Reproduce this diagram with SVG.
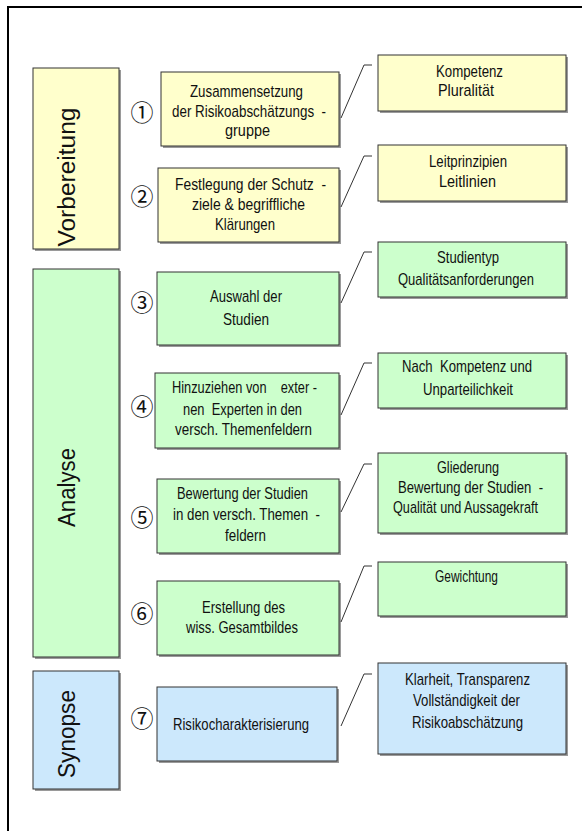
<svg xmlns="http://www.w3.org/2000/svg" width="582" height="831" viewBox="0 0 582 831">
<style>
.frame{fill:none;stroke:#000;stroke-width:2}
.sh{fill:#9a9a9a}
.y{fill:#ffffcc;stroke:#333;stroke-width:1}
.g{fill:#ccffcc;stroke:#333;stroke-width:1}
.b{fill:#cce8fc;stroke:#333;stroke-width:1}
text{font-family:"Liberation Sans",Arial,sans-serif;fill:#111}
.t{font-size:17px}
.p{font-size:23.5px}
.n{font-family:"Noto Sans CJK JP","DejaVu Sans",sans-serif;font-size:23px}
.c{fill:none;stroke:#333;stroke-width:1}
</style>
<rect width="582" height="831" fill="#fff"/>
<path class="frame" d="M8,831 V7 H582"/>

<g id="phase-vorbereitung">
<rect class="sh" x="35" y="70" width="86" height="181"/>
<rect class="y" x="33" y="68" width="86" height="181"/>
<text class="p" transform="translate(75,177) rotate(-90)" text-anchor="middle" textLength="139" lengthAdjust="spacingAndGlyphs">Vorbereitung</text>
</g>
<g id="phase-analyse">
<rect class="sh" x="35" y="271" width="86" height="388"/>
<rect class="g" x="33" y="269" width="86" height="388"/>
<text class="p" transform="translate(75,487.5) rotate(-90)" text-anchor="middle" textLength="79" lengthAdjust="spacingAndGlyphs">Analyse</text>
</g>
<g id="phase-synopse">
<rect class="sh" x="35" y="673" width="86" height="118"/>
<rect class="b" x="33" y="671" width="86" height="118"/>
<text class="p" transform="translate(75,734) rotate(-90)" text-anchor="middle" textLength="88" lengthAdjust="spacingAndGlyphs">Synopse</text>
</g>

<g id="num-1"><text class="n" x="142" y="120.5" text-anchor="middle">①</text></g>
<g id="num-2"><text class="n" x="142" y="204.5" text-anchor="middle">②</text></g>
<g id="num-3"><text class="n" x="142" y="310.5" text-anchor="middle">③</text></g>
<g id="num-4"><text class="n" x="142" y="414.5" text-anchor="middle">④</text></g>
<g id="num-5"><text class="n" x="142" y="525.5" text-anchor="middle">⑤</text></g>
<g id="num-6"><text class="n" x="142" y="621.5" text-anchor="middle">⑥</text></g>
<g id="num-7"><text class="n" x="142" y="726.5" text-anchor="middle">⑦</text></g>

<g id="step-1">
<rect class="sh" x="163" y="74" width="178" height="74"/>
<rect class="y" x="161" y="72" width="178" height="74"/>
<text class="t" x="190" y="96.5" textLength="113" lengthAdjust="spacingAndGlyphs">Zusammensetzung</text>
<text class="t" x="172" y="116.5" textLength="154" lengthAdjust="spacingAndGlyphs">der Risikoabschätzungs&#160;&#160;-</text>
<text class="t" x="225" y="135.5" textLength="45" lengthAdjust="spacingAndGlyphs">gruppe</text>
</g>
<g id="step-2">
<rect class="sh" x="160" y="170" width="181" height="74"/>
<rect class="y" x="158" y="168" width="181" height="74"/>
<text class="t" x="175" y="190" textLength="151" lengthAdjust="spacingAndGlyphs">Festlegung der Schutz&#160;&#160;-</text>
<text class="t" x="192" y="210" textLength="113" lengthAdjust="spacingAndGlyphs">ziele &amp; begriffliche</text>
<text class="t" x="215" y="230" textLength="60" lengthAdjust="spacingAndGlyphs">Klärungen</text>
</g>
<g id="step-3">
<rect class="sh" x="159" y="274" width="182" height="73"/>
<rect class="g" x="157" y="272" width="182" height="73"/>
<text class="t" x="210" y="301.5" textLength="72" lengthAdjust="spacingAndGlyphs">Auswahl der</text>
<text class="t" x="223" y="324.5" textLength="46" lengthAdjust="spacingAndGlyphs">Studien</text>
</g>
<g id="step-4">
<rect class="sh" x="157" y="375" width="184" height="75"/>
<rect class="g" x="155" y="373" width="184" height="75"/>
<text class="t" x="172" y="393" textLength="145" lengthAdjust="spacingAndGlyphs">Hinzuziehen von&#160;&#160;&#160;&#160;exter -</text>
<text class="t" x="183" y="415" textLength="119" lengthAdjust="spacingAndGlyphs">nen&#160;&#160;Experten in den</text>
<text class="t" x="175" y="435" textLength="137" lengthAdjust="spacingAndGlyphs">versch. Themenfeldern</text>
</g>
<g id="step-5">
<rect class="sh" x="159" y="481" width="182" height="74"/>
<rect class="g" x="157" y="479" width="182" height="74"/>
<text class="t" x="177" y="499" textLength="131" lengthAdjust="spacingAndGlyphs">Bewertung der Studien</text>
<text class="t" x="173" y="520" textLength="147" lengthAdjust="spacingAndGlyphs">in den versch. Themen&#160;&#160;-</text>
<text class="t" x="225" y="540.5" textLength="41" lengthAdjust="spacingAndGlyphs">feldern</text>
</g>
<g id="step-6">
<rect class="sh" x="159" y="583" width="182" height="74"/>
<rect class="g" x="157" y="581" width="182" height="74"/>
<text class="t" x="202" y="613" textLength="83" lengthAdjust="spacingAndGlyphs">Erstellung des</text>
<text class="t" x="186" y="633" textLength="112" lengthAdjust="spacingAndGlyphs">wiss. Gesamtbildes</text>
</g>
<g id="step-7">
<rect class="sh" x="159" y="689" width="180" height="74"/>
<rect class="b" x="157" y="687" width="180" height="74"/>
<text class="t" x="173" y="730" textLength="136" lengthAdjust="spacingAndGlyphs">Risikocharakterisierung</text>
</g>

<g id="note-1">
<rect class="sh" x="380" y="57" width="188" height="56"/>
<rect class="y" x="378" y="55" width="188" height="56"/>
<text class="t" x="436" y="76.5" textLength="67" lengthAdjust="spacingAndGlyphs">Kompetenz</text>
<text class="t" x="438" y="96" textLength="56" lengthAdjust="spacingAndGlyphs">Pluralität</text>
</g>
<g id="note-2">
<rect class="sh" x="380" y="147" width="188" height="56"/>
<rect class="y" x="378" y="145" width="188" height="56"/>
<text class="t" x="429" y="166.5" textLength="78" lengthAdjust="spacingAndGlyphs">Leitprinzipien</text>
<text class="t" x="439" y="186.5" textLength="57" lengthAdjust="spacingAndGlyphs">Leitlinien</text>
</g>
<g id="note-3">
<rect class="sh" x="380" y="244" width="188" height="55"/>
<rect class="g" x="378" y="242" width="188" height="55"/>
<text class="t" x="437" y="263" textLength="62" lengthAdjust="spacingAndGlyphs">Studientyp</text>
<text class="t" x="398" y="285" textLength="136" lengthAdjust="spacingAndGlyphs">Qualitätsanforderungen</text>
</g>
<g id="note-4">
<rect class="sh" x="380" y="355" width="188" height="55"/>
<rect class="g" x="378" y="353" width="188" height="55"/>
<text class="t" x="402" y="371.5" textLength="130" lengthAdjust="spacingAndGlyphs">Nach&#160;&#160;Kompetenz und</text>
<text class="t" x="423" y="395" textLength="90" lengthAdjust="spacingAndGlyphs">Unparteilichkeit</text>
</g>
<g id="note-5">
<rect class="sh" x="380" y="455" width="188" height="80"/>
<rect class="g" x="378" y="453" width="188" height="80"/>
<text class="t" x="437" y="473" textLength="62" lengthAdjust="spacingAndGlyphs">Gliederung</text>
<text class="t" x="398" y="493" textLength="145" lengthAdjust="spacingAndGlyphs">Bewertung der Studien&#160;&#160;-</text>
<text class="t" x="393" y="513" textLength="145" lengthAdjust="spacingAndGlyphs">Qualität und Aussagekraft</text>
</g>
<g id="note-6">
<rect class="sh" x="380" y="564" width="188" height="54"/>
<rect class="g" x="378" y="562" width="188" height="54"/>
<text class="t" x="435" y="581.5" textLength="63" lengthAdjust="spacingAndGlyphs">Gewichtung</text>
</g>
<g id="note-7">
<rect class="sh" x="380" y="665" width="188" height="91"/>
<rect class="b" x="378" y="663" width="188" height="91"/>
<text class="t" x="405" y="685" textLength="125" lengthAdjust="spacingAndGlyphs">Klarheit, Transparenz</text>
<text class="t" x="413" y="706" textLength="107" lengthAdjust="spacingAndGlyphs">Vollständigkeit der</text>
<text class="t" x="412" y="727.5" textLength="111" lengthAdjust="spacingAndGlyphs">Risikoabschätzung</text>
</g>

<g id="connectors">
<polyline class="c" points="341,118 364,65 372,65"/>
<polyline class="c" points="341,207 364,156 372,156"/>
<polyline class="c" points="341,303 364,252 372,252"/>
<polyline class="c" points="341,415 364,363 372,363"/>
<polyline class="c" points="341,512 364,464 372,464"/>
<polyline class="c" points="341,622 364,566 372,566"/>
<polyline class="c" points="341,726 364,674 372,674"/>
</g>
</svg>
